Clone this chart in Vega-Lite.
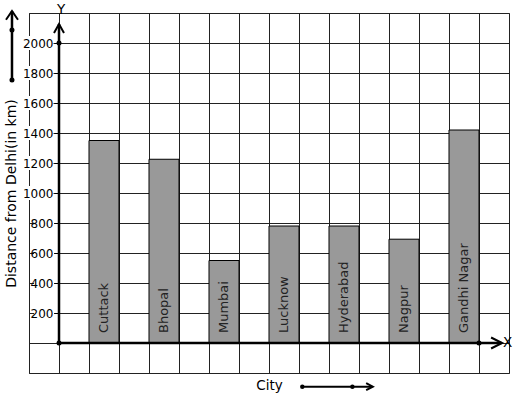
{
  "$schema": "https://vega.github.io/schema/vega-lite/v6.json",
  "width": 480,
  "height": 360,
  "autosize": "none",
  "padding": {"left": 29, "top": 13, "right": 8, "bottom": 26},
  "background": "white",
  "config": {"font": "DejaVu Sans", "view": {"stroke": "#222", "strokeWidth": 1}},
  "resolve": {"scale": {"x": "independent"}, "axis": {"y": "independent"}},
  "layer": [
    {
      "data": {"values": [
        {"city": "Cuttack", "distance": 1350},
        {"city": "Bhopal", "distance": 1225},
        {"city": "Mumbai", "distance": 550},
        {"city": "Lucknow", "distance": 780},
        {"city": "Hyderabad", "distance": 780},
        {"city": "Nagpur", "distance": 692},
        {"city": "Gandhi Nagar", "distance": 1420}
      ]},
      "resolve": {"axis": {"y": "independent"}},
      "encoding": {
        "x": {
          "field": "city", "type": "nominal",
          "scale": {"domain": ["s0", "s1", "Cuttack", "s3", "Bhopal", "s5", "Mumbai", "s7", "Lucknow", "s9", "Hyderabad", "s11", "Nagpur", "s13", "Gandhi Nagar", "s15"], "paddingInner": 0, "paddingOuter": 0},
          "axis": {"bandPosition": 0, "grid": true, "gridColor": "#222", "gridWidth": 1, "gridOpacity": 1, "labels": false, "ticks": false, "domain": false, "title": "City", "titleFontSize": 13.5, "titleFontWeight": "normal", "titleColor": "black", "titlePadding": 5}
        }
      },
      "layer": [
        {
          "mark": {"type": "bar", "color": "#999999", "stroke": "black", "strokeWidth": 1},
          "encoding": {
            "y": {
              "field": "distance", "type": "quantitative",
              "scale": {"domain": [-200, 2200], "nice": false, "zero": false},
              "axis": {"orient": "left", "values": [-200, 0, 200, 400, 600, 800, 1000, 1200, 1400, 1600, 1800, 2000, 2200], "labels": false, "ticks": false, "domain": false, "title": null, "grid": true, "gridColor": "#222", "gridWidth": 1, "gridOpacity": 1, "zindex": 0}
            }
          }
        },
        {
          "mark": {"type": "text", "angle": 270, "align": "left", "baseline": "middle", "dx": 10, "fontSize": 13, "color": "#222"},
          "encoding": {
            "y": {"datum": 0, "type": "quantitative",
              "axis": {"orient": "left", "values": [200, 400, 600, 800, 1000, 1200, 1400, 1600, 1800, 2000], "format": "d", "offset": -30, "domain": false, "grid": false, "tickSize": 5, "tickColor": "black", "labelPadding": 1, "labelFontSize": 12, "labelColor": "black", "title": "Distance from Delhi(in km)", "titleFontSize": 14, "titleFontWeight": "normal", "titleColor": "black", "titlePadding": 4, "zindex": 1}},
            "text": {"field": "city"}
          }
        }
      ]
    },
    {
      "data": {"values": [{"tick": 200}, {"tick": 400}, {"tick": 600}, {"tick": 800}]},
      "mark": {"type": "point", "shape": "M-1,-0.7H1V0.7H-1Z", "filled": true, "color": "white", "size": 400, "opacity": 1, "strokeWidth": 0},
      "encoding": {"x": {"datum": 0.5, "type": "quantitative", "scale": {"domain": [0, 16], "nice": false, "zero": false}, "axis": null}, "y": {"field": "tick", "type": "quantitative", "axis": null}}
    },
    {
      "data": {"values": [{"tick": 1000}, {"tick": 1200}, {"tick": 1400}, {"tick": 1600}, {"tick": 1800}, {"tick": 2000}]},
      "mark": {"type": "point", "shape": "M-1,-0.45H1V0.45H-1Z", "filled": true, "color": "white", "size": 961, "opacity": 1, "strokeWidth": 0},
      "encoding": {"x": {"datum": 0.3, "type": "quantitative", "scale": {"domain": [0, 16], "nice": false, "zero": false}, "axis": null}, "y": {"field": "tick", "type": "quantitative", "axis": null}}
    },
    {
      "data": {"values": [{}]},
      "layer": [
        {"mark": {"type": "rule", "strokeWidth": 2.5, "color": "black"},
         "encoding": {"x": {"datum": 1, "type": "quantitative", "scale": {"domain": [0, 16], "nice": false, "zero": false}, "axis": null}, "y": {"datum": 0, "type": "quantitative", "axis": null}, "y2": {"datum": 2127}}},
        {"mark": {"type": "rule", "strokeWidth": 2.5, "color": "black"},
         "encoding": {"x": {"datum": 1, "type": "quantitative", "axis": null}, "x2": {"datum": 15.75}, "y": {"datum": 0, "type": "quantitative", "axis": null}}},
        {"mark": {"type": "point", "shape": "M-1,1.8L0,0L1,1.8", "filled": false, "stroke": "black", "strokeWidth": 2, "size": 100, "opacity": 1},
         "encoding": {"x": {"datum": 1, "type": "quantitative", "axis": null}, "y": {"datum": 2127, "type": "quantitative", "axis": null}}},
        {"mark": {"type": "point", "shape": "M-2,-1L0,0L-2,1", "filled": false, "stroke": "black", "strokeWidth": 2, "size": 121, "opacity": 1},
         "encoding": {"x": {"datum": 15.77, "type": "quantitative", "axis": null}, "y": {"datum": 0, "type": "quantitative", "axis": null}}},
        {"mark": {"type": "point", "shape": "circle", "filled": true, "color": "black", "size": 25, "opacity": 1},
         "encoding": {"x": {"datum": 1, "type": "quantitative", "axis": null}, "y": {"datum": 0, "type": "quantitative", "axis": null}}},
        {"mark": {"type": "point", "shape": "circle", "filled": true, "color": "black", "size": 25, "opacity": 1},
         "encoding": {"x": {"datum": 1, "type": "quantitative", "axis": null}, "y": {"datum": 2000, "type": "quantitative", "axis": null}}},
        {"mark": {"type": "point", "shape": "circle", "filled": true, "color": "black", "size": 25, "opacity": 1},
         "encoding": {"x": {"datum": 15, "type": "quantitative", "axis": null}, "y": {"datum": 0, "type": "quantitative", "axis": null}}},
        {"mark": {"type": "text", "text": "Y", "fontSize": 13.5, "align": "center", "baseline": "middle", "color": "black"},
         "encoding": {"x": {"datum": 1.07, "type": "quantitative", "axis": null}, "y": {"datum": 2220, "type": "quantitative", "axis": null}}},
        {"mark": {"type": "text", "text": "X", "fontSize": 13.5, "align": "center", "baseline": "middle", "color": "black"},
         "encoding": {"x": {"datum": 15.95, "type": "quantitative", "axis": null}, "y": {"datum": 0, "type": "quantitative", "axis": null}}},
        {"mark": {"type": "rule", "strokeWidth": 2.5, "color": "black"},
         "encoding": {"x": {"datum": -0.567, "type": "quantitative", "axis": null}, "y": {"datum": 1753, "type": "quantitative", "axis": null}, "y2": {"datum": 2213}}},
        {"mark": {"type": "point", "shape": "M-1,1.45L0,0L1,1.45", "filled": false, "stroke": "black", "strokeWidth": 2, "size": 144, "opacity": 1},
         "encoding": {"x": {"datum": -0.567, "type": "quantitative", "axis": null}, "y": {"datum": 2213, "type": "quantitative", "axis": null}}},
        {"mark": {"type": "point", "shape": "circle", "filled": true, "color": "black", "size": 25, "opacity": 1},
         "encoding": {"x": {"datum": -0.567, "type": "quantitative", "axis": null}, "y": {"datum": 2087, "type": "quantitative", "axis": null}}},
        {"mark": {"type": "point", "shape": "circle", "filled": true, "color": "black", "size": 25, "opacity": 1},
         "encoding": {"x": {"datum": -0.567, "type": "quantitative", "axis": null}, "y": {"datum": 1753, "type": "quantitative", "axis": null}}},
        {"mark": {"type": "rule", "strokeWidth": 2, "color": "black"},
         "encoding": {"x": {"datum": 9.11, "type": "quantitative", "axis": null}, "x2": {"datum": 11.44}, "y": {"datum": -291, "type": "quantitative", "axis": null}}},
        {"mark": {"type": "point", "shape": "M-1.9,-1L0,0L-1.9,1", "filled": false, "stroke": "black", "strokeWidth": 2, "size": 49, "opacity": 1},
         "encoding": {"x": {"datum": 11.46, "type": "quantitative", "axis": null}, "y": {"datum": -291, "type": "quantitative", "axis": null}}},
        {"mark": {"type": "point", "shape": "circle", "filled": true, "color": "black", "size": 20, "opacity": 1},
         "encoding": {"x": {"datum": 9.11, "type": "quantitative", "axis": null}, "y": {"datum": -291, "type": "quantitative", "axis": null}}},
        {"mark": {"type": "point", "shape": "circle", "filled": true, "color": "black", "size": 20, "opacity": 1},
         "encoding": {"x": {"datum": 10.78, "type": "quantitative", "axis": null}, "y": {"datum": -291, "type": "quantitative", "axis": null}}}
      ]
    }
  ]
}
